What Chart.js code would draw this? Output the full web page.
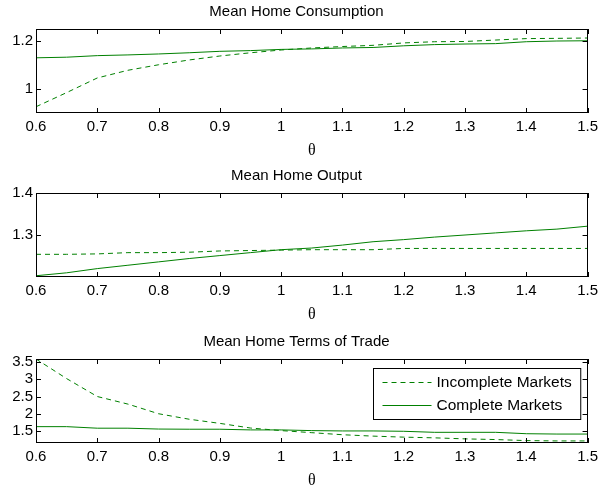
<!DOCTYPE html>
<html>
<head>
<meta charset="utf-8">
<title>Mean Home responses</title>
<script src="https://cdn.jsdelivr.net/npm/chart.js@4.4.0/dist/chart.umd.min.js"></script>
<style>
  body { margin: 0; background: #fff; overflow: hidden; }
  canvas.panel { position: absolute; left: 0; }
</style>
</head>
<body>
<canvas id="consumption" class="panel" width="603" height="161" style="top:-1px"></canvas>
<canvas id="output" class="panel" width="603" height="161" style="top:163px"></canvas>
<canvas id="tot" class="panel" width="603" height="161" style="top:329px"></canvas>
<script>
// theta grid shared by all three panels
const theta = [0.6, 0.65, 0.7, 0.75, 0.8, 0.85, 0.9, 0.95, 1.0, 1.05,
  1.1, 1.15, 1.2, 1.25, 1.3, 1.35, 1.4, 1.45, 1.5];
const thetaTicks = [0.6, 0.7, 0.8, 0.9, 1, 1.1, 1.2, 1.3, 1.4, 1.5];

// mean home consumption
const consIncomplete = [0.926, 0.985, 1.046, 1.078, 1.101, 1.121, 1.1375, 1.151, 1.1625, 1.171,
  1.177, 1.182, 1.192, 1.197, 1.198, 1.204, 1.210, 1.211, 1.2125];
const consComplete = [1.130, 1.1325, 1.139, 1.142, 1.146, 1.151, 1.157, 1.160, 1.165, 1.167,
  1.171, 1.173, 1.180, 1.185, 1.1875, 1.189, 1.197, 1.200, 1.201];
const consTicks = [1, 1.2];

// mean home output
const outIncomplete = [1.254, 1.254, 1.255, 1.258, 1.258, 1.259, 1.262, 1.263, 1.264, 1.265,
  1.265, 1.265, 1.268, 1.268, 1.268, 1.268, 1.268, 1.268, 1.268];
const outComplete = [1.203, 1.210, 1.220, 1.228, 1.236, 1.244, 1.251, 1.258, 1.265, 1.269,
  1.276, 1.284, 1.289, 1.295, 1.300, 1.305, 1.310, 1.314, 1.321];
const outTicks = [1.3, 1.4];

// mean home terms of trade
const totIncomplete = [3.59, 3.02, 2.50, 2.28, 2.00, 1.84, 1.72, 1.585, 1.51, 1.45,
  1.39, 1.35, 1.32, 1.30, 1.27, 1.25, 1.22, 1.21, 1.21];
const totComplete = [1.625, 1.625, 1.58, 1.58, 1.555, 1.55, 1.55, 1.53, 1.53, 1.51,
  1.50, 1.50, 1.49, 1.46, 1.46, 1.46, 1.42, 1.41, 1.41];
const totTicks = [1.5, 2, 2.5, 3, 3.5];

const seriesLabels = ['Incomplete Markets', 'Complete Markets'];
const green = 'rgb(0,128,0)';
const sans = "'Liberation Sans', Arial, Helvetica, sans-serif";

// box around the axes with matlab style inward ticks on all four sides
const boxTicks = {
  id: 'boxTicks',
  afterDatasetsDraw(chart) {
    const { ctx, chartArea: a } = chart;
    const x = chart.scales.x, y = chart.scales.y;
    const len = 5;
    ctx.save();
    ctx.strokeStyle = '#000';
    ctx.lineWidth = 1;
    ctx.beginPath();
    x.ticks.forEach(t => {
      const px = Math.round(x.getPixelForValue(t.value)) + 0.5;
      ctx.moveTo(px, a.bottom); ctx.lineTo(px, a.bottom - len);
      ctx.moveTo(px, a.top); ctx.lineTo(px, a.top + len);
    });
    y.ticks.forEach(t => {
      const py = Math.round(y.getPixelForValue(t.value)) + 0.5;
      ctx.moveTo(a.left, py); ctx.lineTo(a.left + len, py);
      ctx.moveTo(a.right, py); ctx.lineTo(a.right - len, py);
    });
    ctx.stroke();
    ctx.strokeRect(Math.round(a.left) + 0.5, Math.round(a.top) + 0.5,
      Math.round(a.width) - 1, Math.round(a.height) - 1);
    ctx.restore();
  }
};

// boxed legend in the top right corner of the axes
const boxLegend = {
  id: 'boxLegend',
  afterDraw(chart) {
    const { ctx, chartArea: a } = chart;
    const sets = chart.data.datasets;
    ctx.save();
    ctx.font = '15.5px ' + sans;
    const textW = Math.max(...sets.map(d => ctx.measureText(d.label).width));
    const sample = 49, pad = 9, gap = 5, rowH = 23;
    const w = pad + sample + gap + textW + pad;
    const h = rowH * sets.length + 5;
    const left = Math.round(a.right - 7 - w) + 0.5;
    const top = Math.round(a.top + 9) + 0.5;
    ctx.fillStyle = '#fff';
    ctx.fillRect(left, top, w, h);
    ctx.strokeStyle = '#000';
    ctx.lineWidth = 1;
    ctx.strokeRect(left, top, w, h);
    sets.forEach((d, i) => {
      const cy = Math.round(top + 13 + i * rowH) + 0.5;
      ctx.strokeStyle = d.borderColor;
      ctx.lineWidth = d.borderWidth;
      ctx.setLineDash(d.borderDash || []);
      ctx.beginPath();
      ctx.moveTo(left + pad, cy);
      ctx.lineTo(left + pad + sample, cy);
      ctx.stroke();
      ctx.setLineDash([]);
      ctx.fillStyle = '#000';
      ctx.textBaseline = 'middle';
      ctx.fillText(d.label, left + pad + sample + gap, cy);
    });
    ctx.restore();
  }
};

function makePanel(id, title, incomplete, complete, yMin, yMax, yTicks, withLegend) {
  const plugins = [boxTicks];
  if (withLegend) plugins.push(boxLegend);
  return new Chart(document.getElementById(id), {
    type: 'line',
    data: {
      labels: theta,
      datasets: [
        {
          label: seriesLabels[0],
          data: theta.map((t, i) => ({ x: t, y: incomplete[i] })),
          borderColor: green,
          borderWidth: 1,
          borderDash: [5, 4],
          pointRadius: 0,
          tension: 0
        },
        {
          label: seriesLabels[1],
          data: theta.map((t, i) => ({ x: t, y: complete[i] })),
          borderColor: green,
          borderWidth: 1,
          pointRadius: 0,
          tension: 0
        }
      ]
    },
    options: {
      responsive: false,
      animation: false,
      devicePixelRatio: 1,
      layout: { padding: { left: 0, right: 10, top: 0, bottom: 0 } },
      plugins: {
        legend: { display: false },
        tooltip: { enabled: false },
        title: {
          display: true,
          text: title,
          color: '#000',
          font: { family: sans, size: 15, weight: 'normal' },
          padding: { top: 4, bottom: 8 }
        }
      },
      scales: {
        x: {
          type: 'linear',
          min: 0.6,
          max: 1.5,
          grid: { display: false, drawTicks: false },
          border: { display: false },
          afterBuildTicks: s => { s.ticks = thetaTicks.map(v => ({ value: v })); },
          afterFit: s => { s.height = 47; },
          ticks: {
            color: '#000',
            padding: 5,
            maxRotation: 0,
            font: { family: sans, size: 15 },
            callback: v => String(v)
          },
          title: {
            display: true,
            text: 'θ',
            color: '#000',
            font: { family: "'Liberation Serif', 'DejaVu Serif', serif", size: 16 },
            padding: { top: 0, bottom: 0 }
          }
        },
        y: {
          min: yMin,
          max: yMax,
          grid: { display: false, drawTicks: false },
          border: { display: false },
          afterBuildTicks: s => { s.ticks = yTicks.map(v => ({ value: v })); },
          afterFit: s => { s.width = 36; },
          ticks: {
            color: '#000',
            padding: 3,
            font: { family: sans, size: 15 },
            callback: v => String(v)
          }
        }
      }
    },
    plugins: plugins
  });
}

makePanel('consumption', 'Mean Home Consumption', consIncomplete, consComplete, 0.9, 1.25, consTicks, false);
makePanel('output', 'Mean Home Output', outIncomplete, outComplete, 1.2, 1.4, outTicks, false);
makePanel('tot', 'Mean Home Terms of Trade', totIncomplete, totComplete, 1.15, 3.59, totTicks, true);
</script>
</body>
</html>
